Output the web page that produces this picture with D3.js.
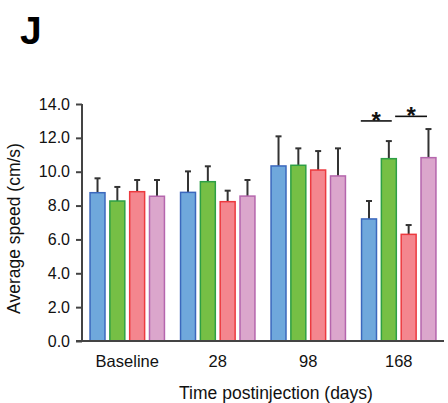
<!DOCTYPE html>
<html>
<head>
<meta charset="utf-8">
<script src="https://cdn.jsdelivr.net/npm/d3@7"></script>
<style>
  html, body { margin: 0; padding: 0; background: #fff; }
  svg { display: block; font-family: "Liberation Sans", Arial, sans-serif; }
</style>
</head>
<body>
<div id="chart"></div>
<script>
// Average walking speed per group at each time point after injection
const timepoints = ["Baseline", "28", "98", "168"];
const groups = ["g1", "g2", "g3", "g4"];
const meanG1 = [8.76, 8.78, 10.34, 7.21];
const meanG2 = [8.27, 9.41, 10.38, 10.77];
const meanG3 = [8.82, 8.23, 10.10, 6.30];
const meanG4 = [8.55, 8.56, 9.75, 10.83];
const errG1 = [0.85, 1.24, 1.75, 1.06];
const errG2 = [0.83, 0.91, 1.00, 1.04];
const errG3 = [0.69, 0.65, 1.12, 0.55];
const errG4 = [0.96, 0.95, 1.63, 1.69];
const yTicks = [0, 2, 4, 6, 8, 10, 12, 14];
// significance brackets: time point, first group, second group, height (cm/s)
const sigTime = ["168", "168"];
const sigFrom = ["g1", "g3"];
const sigTo = ["g2", "g4"];
const sigLevel = [13.0, 13.27];
const sigLabel = ["*", "*"];

const fills = ["#6fa8dc", "#76bf45", "#f4868e", "#dba6cc"];
const strokes = ["#3b68bd", "#2e9f45", "#ec3a3f", "#b566ad"];

const means = [meanG1, meanG2, meanG3, meanG4];
const errs = [errG1, errG2, errG3, errG4];
const rows = [];
timepoints.forEach((t, i) => {
  groups.forEach((g, j) => {
    rows.push({ t, g, j, v: means[j][i], e: errs[j][i] });
  });
});

const W = 448, H = 403;
const svg = d3.select("#chart").append("svg").attr("width", W).attr("height", H);

const x0 = d3.scaleBand().domain(timepoints).range([82, 444]).padding(0);
const x1 = d3.scaleBand().domain(groups)
  .range([7.3, x0.bandwidth() - 7.3]).paddingInner(0.17).paddingOuter(0);
const y = d3.scaleLinear().domain([0, 14]).range([341, 104]);

// panel letter
svg.append("text").attr("x", 20).attr("y", 44)
  .attr("font-size", 39).attr("font-weight", "bold").attr("fill", "#000").text("J");

// bars
const bar = svg.append("g").selectAll("g.bar").data(rows).join("g");
bar.append("line")
  .attr("x1", d => x0(d.t) + x1(d.g) + x1.bandwidth() / 2)
  .attr("x2", d => x0(d.t) + x1(d.g) + x1.bandwidth() / 2)
  .attr("y1", d => y(d.v)).attr("y2", d => y(d.v + d.e))
  .attr("stroke", "#333").attr("stroke-width", 2);
bar.append("line")
  .attr("x1", d => x0(d.t) + x1(d.g) + x1.bandwidth() / 2 - 3)
  .attr("x2", d => x0(d.t) + x1(d.g) + x1.bandwidth() / 2 + 3)
  .attr("y1", d => y(d.v + d.e)).attr("y2", d => y(d.v + d.e))
  .attr("stroke", "#333").attr("stroke-width", 2);
bar.append("rect")
  .attr("x", d => x0(d.t) + x1(d.g) + 0.75)
  .attr("y", d => y(d.v))
  .attr("width", x1.bandwidth() - 1.5)
  .attr("height", d => y(0) - y(d.v))
  .attr("fill", d => fills[d.j])
  .attr("stroke", d => strokes[d.j])
  .attr("stroke-width", 1.5);

// y axis
const yAxis = svg.append("g").attr("transform", "translate(82,0)")
  .call(d3.axisLeft(y).tickValues(yTicks).tickFormat(d3.format(".1f")).tickSize(6).tickPadding(6));
yAxis.select(".domain").attr("stroke", "#444").attr("stroke-width", 2)
  .attr("d", `M0,${y(14)}V${y(0)}`);
yAxis.selectAll(".tick line").attr("stroke", "#444").attr("stroke-width", 2);
yAxis.selectAll(".tick text").attr("font-size", 16).attr("fill", "#111")
  .attr("font-family", "Liberation Sans, Arial, sans-serif");

// x axis
const xAxis = svg.append("g").attr("transform", `translate(0,${y(0)})`)
  .call(d3.axisBottom(x0).tickSize(0).tickPadding(14));
xAxis.select(".domain").attr("stroke", "#444").attr("stroke-width", 2)
  .attr("d", `M76,0H444`);
xAxis.selectAll(".tick text").attr("font-size", 16.5).attr("fill", "#111")
  .attr("font-family", "Liberation Sans, Arial, sans-serif");

// axis titles
svg.append("text").attr("x", 276).attr("y", 399).attr("text-anchor", "middle")
  .attr("font-size", 17.5).attr("fill", "#111").text("Time postinjection (days)");
svg.append("text").attr("transform", "translate(20,228.5) rotate(-90)")
  .attr("text-anchor", "middle").attr("font-size", 17.5).attr("fill", "#111")
  .text("Average speed (cm/s)");

// significance brackets
const sig = svg.append("g");
sigTime.forEach((t, i) => {
  const a = x0(t) + x1(sigFrom[i]);
  const b = x0(t) + x1(sigTo[i]) + x1.bandwidth();
  const xa = i === 0 ? a : a - 5.3;
  const xb = i === 0 ? b - 5.3 : b - 9.7;
  const yy = y(sigLevel[i]);
  sig.append("line").attr("x1", xa).attr("x2", xb).attr("y1", yy).attr("y2", yy)
    .attr("stroke", "#111").attr("stroke-width", 1.6);
  sig.append("text").attr("x", (xa + xb) / 2).attr("y", yy + 8)
    .attr("text-anchor", "middle").attr("font-size", 24).attr("font-weight", "bold")
    .attr("fill", "#111").text(sigLabel[i]);
});
</script>
</body>
</html>
